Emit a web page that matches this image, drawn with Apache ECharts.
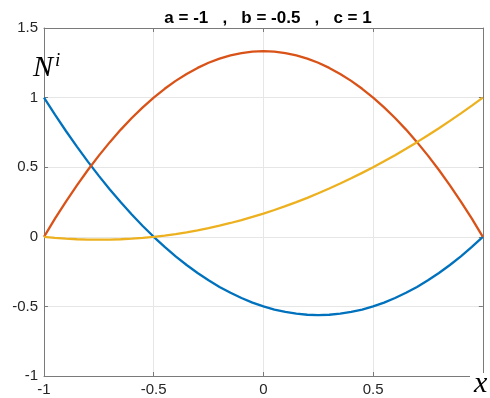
<!DOCTYPE html>
<html>
<head>
<meta charset="utf-8">
<script src="https://cdn.jsdelivr.net/npm/echarts@6/dist/echarts.min.js"></script>
<style>html,body{margin:0;padding:0;background:#fff}#c{width:490px;height:398px}</style>
</head>
<body>
<div id="c"></div>
<script>
const titleText = 'a = -1   ,   b = -0.5   ,   c = 1';
const xs = [-1,-0.95,-0.9,-0.85,-0.8,-0.75,-0.7,-0.65,-0.6,-0.55,-0.5,-0.45,-0.4,-0.35,-0.3,-0.25,-0.2,-0.15,-0.1,-0.05,0,
  0.05,0.1,0.15,0.2,0.25,0.3,0.35,0.4,0.45,0.5,0.55,0.6,0.65,0.7,0.75,0.8,0.85,0.9,0.95,1];
const N1 = [1,0.8775,0.76,0.6475,0.54,0.4375,0.34,0.2475,0.16,0.0775,0,-0.0725,-0.14,-0.2025,-0.26,-0.3125,-0.36,-0.4025,-0.44,-0.4725,-0.5,
  -0.5225,-0.54,-0.5525,-0.56,-0.5625,-0.56,-0.5525,-0.54,-0.5225,-0.5,-0.4725,-0.44,-0.4025,-0.36,-0.3125,-0.26,-0.2025,-0.14,-0.0725,0];
const N2 = [0,0.13,0.2533,0.37,0.48,0.5833,0.68,0.77,0.8533,0.93,1,1.0633,1.12,1.17,1.2133,1.25,1.28,1.3033,1.32,1.33,1.3333,
  1.33,1.32,1.3033,1.28,1.25,1.2133,1.17,1.12,1.0633,1,0.93,0.8533,0.77,0.68,0.5833,0.48,0.37,0.2533,0.13,0];
const N3 = [0,-0.0075,-0.0133,-0.0175,-0.02,-0.0208,-0.02,-0.0175,-0.0133,-0.0075,0,0.0092,0.02,0.0325,0.0467,0.0625,0.08,0.0992,0.12,0.1425,0.1667,
  0.1925,0.22,0.2492,0.28,0.3125,0.3467,0.3825,0.42,0.4592,0.5,0.5425,0.5867,0.6325,0.68,0.7292,0.78,0.8325,0.8867,0.9425,1];
const colors = ['#0072BD','#D95319','#EDB120'];

const axisCol = '#7a7a7a';
function pairs(ys){ return xs.map((x,i)=>[x,ys[i]]); }
const chart = echarts.init(document.getElementById('c'), null, {renderer:'canvas'});
const lbl = {color:'#262626',fontSize:15,fontFamily:'Liberation Sans'};
const mainAxis = (extra) => Object.assign({
  type:'value',
  axisLine:{show:true,onZero:false,lineStyle:{color:axisCol,width:1}},
  axisTick:{show:true,inside:true,length:4,lineStyle:{color:axisCol}},
  splitLine:{show:true,lineStyle:{color:'#e6e6e6',width:1}}
}, extra);
const sideAxis = (extra) => Object.assign({
  type:'value',
  axisLine:{show:true,onZero:false,lineStyle:{color:axisCol,width:1}},
  axisTick:{show:true,inside:true,length:4,lineStyle:{color:axisCol}},
  axisLabel:{show:false},
  splitLine:{show:false}
}, extra);
chart.setOption({
  animation:false,
  backgroundColor:'#fff',
  grid:{left:44,right:6,top:28,bottom:22,containLabel:false},
  title:{text:titleText,left:263,top:5,textAlign:'center',
    textStyle:{fontFamily:'Liberation Sans',fontWeight:'bold',fontSize:17,color:'#000'}},
  xAxis:[
    mainAxis({min:-1,max:1,interval:0.5,position:'bottom',axisLabel:Object.assign({margin:6},lbl)}),
    sideAxis({min:-1,max:1,interval:0.5,position:'top'})
  ],
  yAxis:[
    mainAxis({min:-1,max:1.5,interval:0.5,position:'left',axisLabel:Object.assign({margin:6},lbl)}),
    sideAxis({min:-1,max:1.5,interval:0.5,position:'right'})
  ],
  series:[N1,N2,N3].map((d,i)=>({
    type:'line', data:pairs(d), smooth:false, showSymbol:false,
    xAxisIndex:0, yAxisIndex:0,
    lineStyle:{color:colors[i],width:2.3}, z:3+i
  })),
  graphic:[
    {type:'rect',left:470,top:373,shape:{width:20,height:25},style:{fill:'#fff'},z:100},
    {type:'text',left:474,top:369,z:101,style:{text:'x',font:'italic 30px "Liberation Serif"',fill:'#000'}},
    {type:'text',left:33,top:51,z:101,style:{text:'{n|N}{s|i}',rich:{n:{font:'italic 30px "Liberation Serif"',fill:'#000'},s:{font:'italic 19px "Liberation Serif"',fill:'#000',verticalAlign:'top',padding:[0,0,15,2]}}}}
  ]
});
</script>
</body>
</html>
